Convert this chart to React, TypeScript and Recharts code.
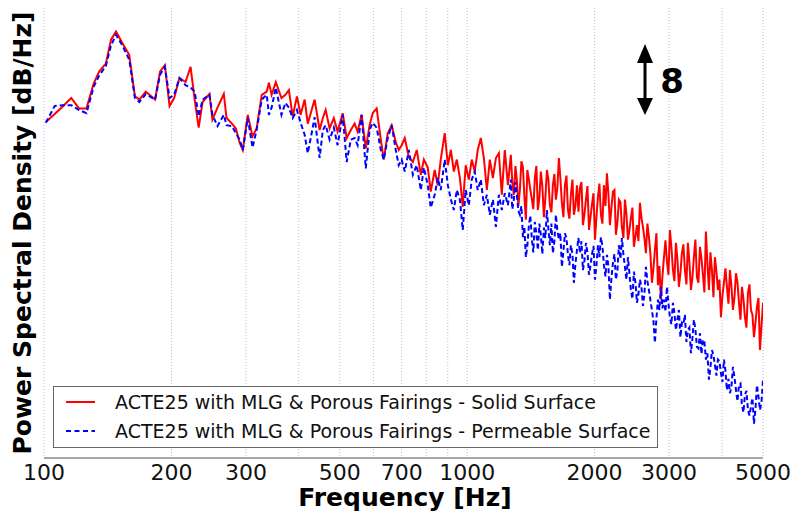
import { CartesianGrid, Legend, Line, LineChart, XAxis, YAxis } from "recharts";

// frequency bins (Hz)
const frequencyHz = [
  101, 106, 111, 116, 121, 126, 131, 135, 140, 144,
  148, 153, 159, 164, 168, 174, 183, 188, 193, 198,
  203, 209, 216, 222, 227, 232, 237, 246, 250, 257,
  266, 270, 278, 284, 290, 295, 303, 311, 318, 327,
  336, 340, 345, 353, 364, 372, 379, 387, 396, 404,
  413, 420, 429, 436, 448, 456, 463, 473, 484, 494,
  508, 519, 531, 542, 551, 563, 576, 588, 598, 611,
  625, 635, 649, 663, 678, 689, 700, 712, 728, 744,
  760, 777, 790, 807, 820, 838, 852, 866, 885, 900,
  915, 930, 945, 961, 976, 992, 1009, 1025, 1042, 1059,
  1077, 1095, 1113, 1131, 1150, 1169, 1188, 1207, 1227, 1248,
  // denser above ~1.25 kHz
  1268, 1278, 1289, 1300, 1310, 1321, 1332, 1343, 1354, 1365, 1376, 1387, 1399, 1410, 1422, 1433, 1445, 1457, 1469, 1481,
  1493, 1505, 1518, 1530, 1543, 1555, 1568, 1581, 1594, 1607, 1620, 1633, 1647, 1660, 1674, 1688, 1702, 1716, 1730, 1744,
  1758, 1773, 1787, 1802, 1817, 1832, 1847, 1862, 1877, 1893, 1908, 1924, 1940, 1955, 1971, 1988, 2004, 2020, 2037, 2053,
  2070, 2087, 2104, 2122, 2139, 2156, 2174, 2192, 2210, 2228, 2246, 2265, 2283, 2302, 2321, 2340, 2359, 2378, 2398, 2417,
  2437, 2457, 2477, 2498, 2518, 2539, 2560, 2581, 2602, 2623, 2644, 2666, 2688, 2710, 2732, 2755, 2777, 2800, 2823, 2846,
  2869, 2893, 2917, 2941, 2965, 2989, 3013, 3038, 3063, 3088, 3113, 3138, 3164, 3190, 3216, 3242, 3269, 3296, 3323, 3350,
  3378, 3405, 3433, 3461, 3490, 3519, 3548, 3577, 3606, 3635, 3665, 3695, 3726, 3756, 3787, 3818, 3849, 3881, 3913, 3945,
  3977, 4010, 4043, 4076, 4109, 4143, 4177, 4211, 4246, 4281, 4316, 4351, 4387, 4423, 4459, 4495, 4532, 4569, 4607, 4645,
  4683, 4721, 4760, 4799, 4838, 4878, 4918, 4959, 5000,
];

// PSD, solid surface (dB/Hz)
const solidSurfaceDb = [
  69.5, 70.5, 71.5, 72.5, 71.2, 71.2, 74.3, 75.8, 76.8, 79.8,
  80.8, 79.4, 77.9, 72.7, 72.3, 73.3, 72.3, 75.8, 76.6, 71.5,
  72.5, 75.0, 74.5, 76.4, 72.3, 68.8, 72.0, 73.0, 69.8, 71.3,
  73.0, 70.0, 69.3, 68.7, 66.9, 66.0, 70.4, 67.7, 68.7, 72.9,
  73.3, 74.4, 72.9, 74.5, 72.5, 72.9, 73.5, 70.2, 72.7, 70.4,
  72.3, 69.3, 71.0, 72.3, 68.5, 70.0, 71.0, 68.7, 70.0, 68.3,
  70.6, 67.5, 68.5, 69.3, 68.3, 70.4, 66.2, 69.1, 70.6, 71.2,
  67.3, 64.8, 68.1, 69.1, 67.0, 66.0, 66.6, 67.5, 65.1, 64.5,
  66.0, 62.9, 64.8, 63.8, 60.8, 63.5, 61.6, 64.8, 68.1, 64.1,
  66.0, 63.3, 64.8, 62.5, 58.9, 64.1, 62.3, 64.8, 63.3, 66.0,
  67.5, 65.0, 61.0, 64.8, 62.5, 65.0, 65.6, 60.4, 66.0, 61.6,
  65.4, 62.0, 60.4, 64.0, 62.3, 59.0, 61.0, 64.6, 63.9, 60.2, 57.3, 63.5, 62.3, 61.0, 59.8, 58.6, 62.5, 64.0, 58.5, 60.0,
  63.3, 61.5, 57.6, 60.0, 63.5, 62.4, 59.1, 58.2, 61.6, 63.0, 59.8, 61.2, 65.0, 62.5, 59.4, 57.6, 61.6, 62.8, 58.5, 57.4,
  60.4, 62.3, 57.9, 59.0, 61.6, 58.3, 61.3, 62.0, 56.6, 58.0, 59.8, 61.5, 56.0, 57.5, 59.1, 60.6, 54.8, 57.6, 60.1, 61.8,
  57.9, 56.8, 61.6, 59.0, 63.1, 60.5, 56.6, 58.8, 60.8, 61.0, 55.4, 57.0, 59.8, 59.5, 56.3, 55.0, 59.8, 58.0, 54.8, 56.0,
  57.5, 58.8, 53.9, 55.2, 56.6, 54.6, 59.4, 57.5, 56.4, 55.0, 53.1, 56.8, 55.1, 53.0, 49.4, 51.2, 53.5, 55.6, 49.1, 51.5,
  47.3, 50.2, 52.6, 54.7, 52.0, 50.4, 56.0, 53.8, 51.0, 49.6, 54.4, 52.4, 48.9, 50.6, 53.1, 54.2, 51.0, 49.2, 54.4, 52.0,
  48.5, 50.0, 52.6, 54.8, 50.1, 49.4, 53.9, 52.5, 50.4, 48.2, 55.8, 51.8, 48.5, 53.2, 51.0, 47.6, 52.6, 50.8, 48.5, 49.8,
  45.1, 47.8, 49.4, 51.2, 48.9, 46.8, 51.0, 49.0, 46.0, 47.6, 50.6, 49.5, 46.9, 44.8, 48.9, 47.4, 45.1, 43.8, 48.1, 49.2,
  46.0, 45.4, 42.6, 44.4, 46.4, 47.5, 41.0, 44.0, 46.9,
];

// PSD, permeable surface (dB/Hz)
const permeableSurfaceDb = [
  69.4, 71.5, 71.6, 71.6, 71.0, 70.6, 73.9, 75.3, 76.5, 79.1,
  80.4, 79.1, 77.3, 72.5, 72.0, 73.0, 72.3, 75.4, 76.4, 72.5,
  72.9, 75.0, 74.1, 73.8, 73.3, 70.2, 72.3, 72.9, 70.4, 69.0,
  70.4, 69.1, 69.0, 68.1, 67.3, 66.0, 70.0, 66.3, 68.5, 72.3,
  72.9, 70.4, 71.3, 73.8, 70.4, 71.9, 71.3, 70.0, 71.0, 69.4,
  67.9, 65.6, 68.1, 70.1, 65.0, 68.5, 69.1, 67.3, 68.8, 66.6,
  70.4, 64.5, 67.3, 67.5, 66.6, 70.4, 63.7, 68.5, 69.4, 68.8,
  66.0, 64.8, 67.5, 69.1, 66.0, 64.1, 64.8, 63.3, 66.0, 62.9,
  64.1, 61.0, 63.8, 61.6, 58.8, 60.4, 62.5, 61.0, 64.8, 61.6,
  59.8, 58.5, 61.0, 59.8, 56.0, 61.0, 59.1, 62.3, 63.3, 61.0,
  62.3, 59.1, 60.4, 57.9, 59.8, 56.4, 60.4, 58.5, 60.6, 59.1,
  62.3, 58.6, 59.8, 62.0, 60.4, 58.4, 57.9, 59.0, 55.1, 56.4, 52.6, 54.0, 56.6, 57.8, 54.8, 53.2, 57.0, 55.6, 53.5, 56.8,
  55.4, 53.0, 56.3, 55.0, 58.5, 56.2, 54.1, 56.8, 53.1, 54.6, 57.9, 56.0, 54.8, 55.6, 51.4, 53.4, 55.6, 55.0, 52.9, 51.6,
  54.1, 53.0, 49.4, 51.8, 53.5, 55.0, 53.1, 54.6, 51.0, 52.2, 54.4, 53.2, 50.4, 51.5, 52.9, 54.0, 49.8, 51.5, 54.1, 52.6,
  55.1, 54.0, 51.6, 50.2, 52.9, 51.5, 47.3, 50.0, 51.9, 53.0, 49.8, 51.0, 54.1, 52.4, 55.0, 52.9, 51.4, 49.8, 52.6, 50.6,
  48.5, 47.4, 50.8, 49.4, 46.9, 48.0, 49.8, 48.9, 46.5, 48.0, 51.4, 49.6, 48.5, 47.2, 46.0, 44.6, 41.9, 45.0, 47.3, 46.0,
  48.9, 46.2, 47.3, 45.8, 48.9, 46.8, 45.1, 44.2, 46.9, 45.6, 43.5, 44.8, 46.0, 42.6, 44.4, 44.2, 45.4, 42.0, 43.5, 43.8,
  40.6, 42.4, 44.8, 43.6, 41.4, 41.2, 43.1, 40.5, 42.3, 42.0, 39.8, 40.6, 37.3, 38.8, 41.0, 40.4, 39.1, 37.8, 39.8, 39.6,
  38.1, 37.0, 39.8, 38.4, 36.0, 37.4, 35.6, 36.4, 38.9, 37.6, 36.0, 34.6, 36.6, 36.8, 34.1, 33.2, 35.4, 35.9, 33.5, 32.8,
  33.9, 35.0, 31.8, 33.6, 36.6, 35.2, 33.5, 34.5, 37.3,
];

const xTicks = [100, 200, 300, 400, 500, 600, 700, 800, 900, 1000, 2000, 3000, 4000, 5000];
const xTickLabels = [100, 200, 300, 500, 700, 1000, 2000, 3000, 5000];
const yTicks = [30, 35, 40, 45, 50, 55, 60, 65, 70, 75, 80];
const yDomain = [27.5, 83.75];

const seriesKeys = ["solid", "permeable"];
const seriesNames = [
  "ACTE25 with MLG & Porous Fairings - Solid Surface",
  "ACTE25 with MLG & Porous Fairings - Permeable Surface",
];

const FRAME = "#8a8a8a";
const FONT = "'DejaVu Sans', sans-serif";

const rows = frequencyHz.map((f, i) => ({
  freq: f,
  solid: solidSurfaceDb[i],
  permeable: permeableSurfaceDb[i],
}));

function LegendBox({ payload }: any) {
  const items = seriesKeys
    .map((k) => (payload || []).find((p: any) => p.dataKey === k))
    .filter(Boolean);
  return (
    <div
      style={{
        position: "relative",
        width: 603,
        height: 60,
        border: "1px solid #666",
        background: "#fff",
        fontFamily: FONT,
        fontSize: 19,
        color: "#111",
      }}
    >
      {items.map((entry: any, i: number) => (
        <div
          key={entry.dataKey}
          style={{ position: "absolute", left: 0, top: i === 0 ? 2 : 31, height: 26, display: "flex", alignItems: "center" }}
        >
          <svg width={60} height={26} style={{ display: "block" }}>
            <line
              x1={12}
              x2={41}
              y1={13}
              y2={13}
              stroke={entry.color}
              strokeWidth={2}
              strokeDasharray={entry.dataKey === "permeable" ? "5 3.5" : undefined}
            />
          </svg>
          <span style={{ marginLeft: 1, whiteSpace: "nowrap" }}>{entry.value}</span>
        </div>
      ))}
    </div>
  );
}

export default function App() {
  return (
    <div style={{ position: "absolute", left: 0, top: 0, width: 793, height: 514, background: "#fff", fontFamily: FONT }}>
      <LineChart width={793} height={514} data={rows} margin={{ top: 8, right: 30, bottom: 26, left: 44 }}>
        <CartesianGrid stroke="#bdbdbd" strokeDasharray="1 2" verticalValues={xTicks} horizontalValues={yTicks} />
        <XAxis
          dataKey="freq"
          type="number"
          scale="log"
          domain={[100, 5000]}
          allowDataOverflow
          ticks={xTicks}
          interval={0}
          height={30}
          tickLine={false}
          axisLine={{ stroke: FRAME, strokeWidth: 1.5 }}
          tickMargin={0}
          tick={{ fontSize: 22, fill: "#111", fontFamily: FONT }}
          tickFormatter={(v: number) => (xTickLabels.includes(v) ? String(v) : "")}
        />
        <XAxis
          xAxisId="top"
          orientation="top"
          dataKey="freq"
          type="number"
          scale="log"
          domain={[100, 5000]}
          allowDataOverflow
          ticks={xTicks}
          interval={0}
          height={0}
          mirror
          tick={false}
          tickSize={4}
          tickLine={{ stroke: FRAME }}
          axisLine={{ stroke: FRAME, strokeWidth: 1.5 }}
        />
        <YAxis
          type="number"
          domain={yDomain}
          ticks={yTicks}
          interval={0}
          width={0}
          mirror
          tick={false}
          tickSize={4}
          tickLine={{ stroke: FRAME }}
          axisLine={{ stroke: FRAME, strokeWidth: 1.5 }}
        />
        <YAxis
          yAxisId="right"
          orientation="right"
          type="number"
          domain={yDomain}
          ticks={yTicks}
          interval={0}
          width={0}
          mirror
          tick={false}
          tickSize={4}
          tickLine={{ stroke: FRAME }}
          axisLine={{ stroke: FRAME, strokeWidth: 1.5 }}
        />
        <Line
          dataKey="solid"
          name={seriesNames[0]}
          type="linear"
          stroke="#ff0000"
          strokeWidth={2}
          dot={false}
          isAnimationActive={false}
        />
        <Line
          dataKey="permeable"
          name={seriesNames[1]}
          type="linear"
          stroke="#0000ff"
          strokeWidth={2}
          strokeDasharray="5 3"
          dot={false}
          isAnimationActive={false}
        />
        <Legend
          layout="horizontal"
          align="center"
          verticalAlign="middle"
          content={<LegendBox />}
          wrapperStyle={{ position: "absolute", left: 53, top: 386, width: 605, height: 62 }}
        />
      </LineChart>

      <svg
        width={793}
        height={514}
        style={{ position: "absolute", left: 0, top: 0, pointerEvents: "none" }}
        fontFamily={FONT}
      >
        <text transform="translate(31,233) rotate(-90)" textAnchor="middle" fontSize={25} fontWeight="bold" fill="#000">
          Power Spectral Density [dB/Hz]
        </text>
        <text x={405} y={506} textAnchor="middle" fontSize={25} fontWeight="bold" fill="#000">
          Frequency [Hz]
        </text>
        {/* 8 dB scale marker */}
        <line x1={645} x2={645} y1={60} y2={100} stroke="#000" strokeWidth={3} />
        <polygon points="645,44 637,63 653,63" fill="#000" />
        <polygon points="645,115 637,98 653,98" fill="#000" />
        <text x={672} y={93} textAnchor="middle" fontSize={34} fontWeight="bold" fill="#000">
          8
        </text>
      </svg>
    </div>
  );
}
